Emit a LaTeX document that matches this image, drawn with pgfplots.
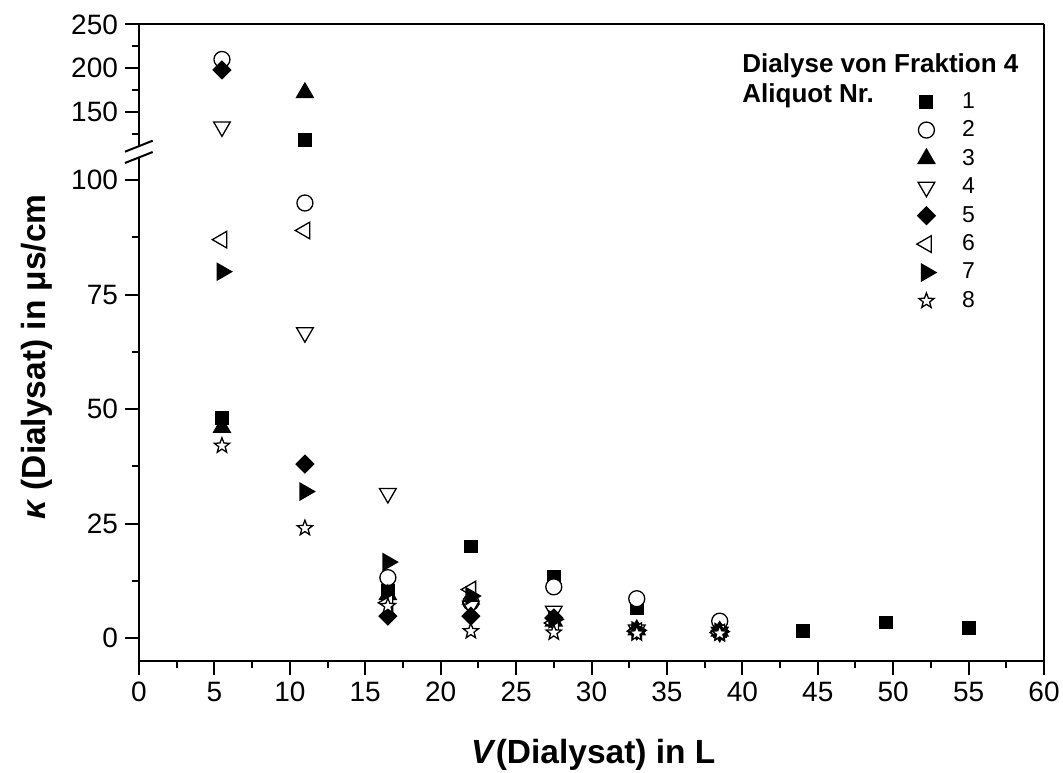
\documentclass[border=0pt]{standalone}
\usepackage{fontspec}
\setmainfont{Liberation Sans}
\usepackage{pgfplots}
\pgfplotsset{compat=1.18}

\pgfdeclareplotmark{ostar}{%
  \pgfpathmoveto{\pgfpointpolar{90}{\pgfplotmarksize}}%
  \pgfpathlineto{\pgfpointpolar{126}{0.42\pgfplotmarksize}}%
  \pgfpathlineto{\pgfpointpolar{162}{\pgfplotmarksize}}%
  \pgfpathlineto{\pgfpointpolar{198}{0.42\pgfplotmarksize}}%
  \pgfpathlineto{\pgfpointpolar{234}{\pgfplotmarksize}}%
  \pgfpathlineto{\pgfpointpolar{270}{0.42\pgfplotmarksize}}%
  \pgfpathlineto{\pgfpointpolar{306}{\pgfplotmarksize}}%
  \pgfpathlineto{\pgfpointpolar{342}{0.42\pgfplotmarksize}}%
  \pgfpathlineto{\pgfpointpolar{18}{\pgfplotmarksize}}%
  \pgfpathlineto{\pgfpointpolar{54}{0.42\pgfplotmarksize}}%
  \pgfpathclose
  \pgfusepathqfillstroke}

\pgfplotsset{
  common/.style={
    scale only axis, width=452.5pt, xmin=0, xmax=60,
    tick align=outside, major tick length=7pt, minor tick length=3.5pt,
    tick style={line width=1pt, black},
    axis line style={line width=1pt},
    /pgf/number format/assume math mode=true,
    tick label style={font=\fontsize{14}{16}\selectfont},
  },
  s1/.style={only marks, mark=square*, mark size=3.15pt, mark options={fill=black, draw=black, line width=0.65pt}},
  s2/.style={only marks, mark=*, mark size=4pt, mark options={fill=white, draw=black, line width=0.65pt}},
  s3/.style={only marks, mark=triangle*, mark size=4.8pt, mark options={fill=black, draw=black, line width=0.65pt}},
  s4/.style={only marks, mark=triangle*, mark size=4.8pt, mark options={rotate=180, fill=white, draw=black, line width=0.65pt}},
  s5/.style={only marks, mark=square*, mark size=3.1pt, mark options={rotate=45, fill=black, draw=black, line width=0.65pt}},
  s6/.style={only marks, mark=triangle*, mark size=4.8pt, mark options={rotate=90, fill=white, draw=black, line width=0.65pt}},
  s7/.style={only marks, mark=triangle*, mark size=4.8pt, mark options={rotate=-90, fill=black, draw=black, line width=0.65pt}},
  s8/.style={only marks, mark=ostar, mark size=4pt, mark options={fill=white, draw=black, line width=0.65pt}},
}

\begin{document}
\begin{tikzpicture}
\useasboundingbox (-69.5pt,-55.5pt) rectangle (462pt,330.5pt);

% lower part of the broken axis
\begin{axis}[common, at={(0pt,0pt)}, anchor=south west, height=251.9pt,
  ymin=-5, ymax=105,
  axis x line*=bottom, axis y line*=left,
  xtick={0,5,...,60}, minor x tick num=1,
  ytick={0,25,50,75,100}, minor ytick={12.5,37.5,62.5,87.5},
  restrict y to domain=-5:105,
  xlabel={\textit{V}(Dialysat) in L},
  xlabel style={font=\bfseries\fontsize{16.75}{20}\selectfont, at={(axis description cs:0.502,-0.2025)}, anchor=base},
  ylabel={\textit{κ} (Dialysat) in μs/cm},
  ylabel style={font=\bfseries\fontsize{16.75}{20}\selectfont, at={(axis description cs:-0.1028,0.6034)}, anchor=base},
  legend style={draw=none, fill=none, inner sep=0pt, at={(0.8586,1.1298)}, anchor=north west,
    row sep=4.75pt, column sep=12.8pt, nodes={inner sep=0pt, font=\fontsize{11.5}{12}\selectfont}},
  legend cell align=left,
  legend image code/.code={\draw[#1] plot coordinates {(0pt,0pt)}; \path[draw=none,fill=none] (-5pt,-4.1pt) rectangle (5pt,4.1pt);},
]
\addplot[s1] coordinates {(5.5,48) (11,118) (16.5,10.3) (22,20) (27.5,13.3) (33,6.6) (38.5,1.5) (44,1.5) (49.5,3.4) (55,2.3)};
\addlegendentry{1}
\addplot[s2] coordinates {(5.5,210) (11,95) (16.5,13.2) (22,7.8) (27.5,11.2) (33,8.6) (38.5,3.7)};
\addlegendentry{2}
\addplot[s3] coordinates {(5.5,46) (11,172) (16.5,9.5) (22,8.5) (27.5,3.7) (33,1.8) (38.5,1.5)};
\addlegendentry{3}
\addplot[s4] coordinates {(5.5,133) (11,66.7) (16.5,31.6) (22,7) (27.5,5.9) (33,1.8) (38.5,1.3)};
\addlegendentry{4}
\addplot[s5] coordinates {(5.5,198) (11,38) (16.5,4.8) (22,4.8) (27.5,4.4) (33,1.6) (38.5,1.5)};
\addlegendentry{5}
\addplot[s6] coordinates {(5.5,87) (11,89) (16.5,7.7) (22,10.6) (27.5,3.3) (33,1.5) (38.5,1.2)};
\addlegendentry{6}
\addplot[s7] coordinates {(5.5,80) (11,32) (16.5,16.6) (22,9.2) (27.5,4.1) (33,1.7) (38.5,1.4)};
\addlegendentry{7}
\addplot[s8] coordinates {(5.5,42) (11,24) (16.5,7) (22,1.5) (27.5,1.2) (33,1.0) (38.5,1.0)};
\addlegendentry{8}
\end{axis}

% upper part of the broken axis
\begin{axis}[common, at={(0pt,257.5pt)}, anchor=south west, height=60.75pt,
  ymin=111, ymax=250,
  axis x line*=top, axis y line*=left,
  xtick=\empty,
  ytick={150,200,250}, minor ytick={125,175,225},
  restrict y to domain=111:250,
]
\addplot[s1] coordinates {(5.5,48) (11,118) (16.5,10.3) (22,20)};
\addplot[s2] coordinates {(5.5,210) (11,95) (16.5,13.2)};
\addplot[s3] coordinates {(5.5,46) (11,172) (16.5,9.5)};
\addplot[s4] coordinates {(5.5,133) (11,66.7) (16.5,31.6)};
\addplot[s5] coordinates {(5.5,198) (11,38) (16.5,4.8)};
\end{axis}

% right border and break marks
\draw[line width=1pt] (452.5pt,0pt) -- (452.5pt,318.25pt);
\draw[line width=1pt] (-7pt,254.65pt) -- (6.85pt,260.15pt);
\draw[line width=1pt] (-7pt,249pt) -- (6.85pt,254.5pt);

% legend title
\node[anchor=base west, font=\bfseries\fontsize{13}{15}\selectfont, inner sep=0pt] at (301.5pt,294pt) {Dialyse von Fraktion 4};
\node[anchor=base west, font=\bfseries\fontsize{13}{15}\selectfont, inner sep=0pt] at (301.5pt,279pt) {Aliquot Nr.};
\end{tikzpicture}
\end{document}
